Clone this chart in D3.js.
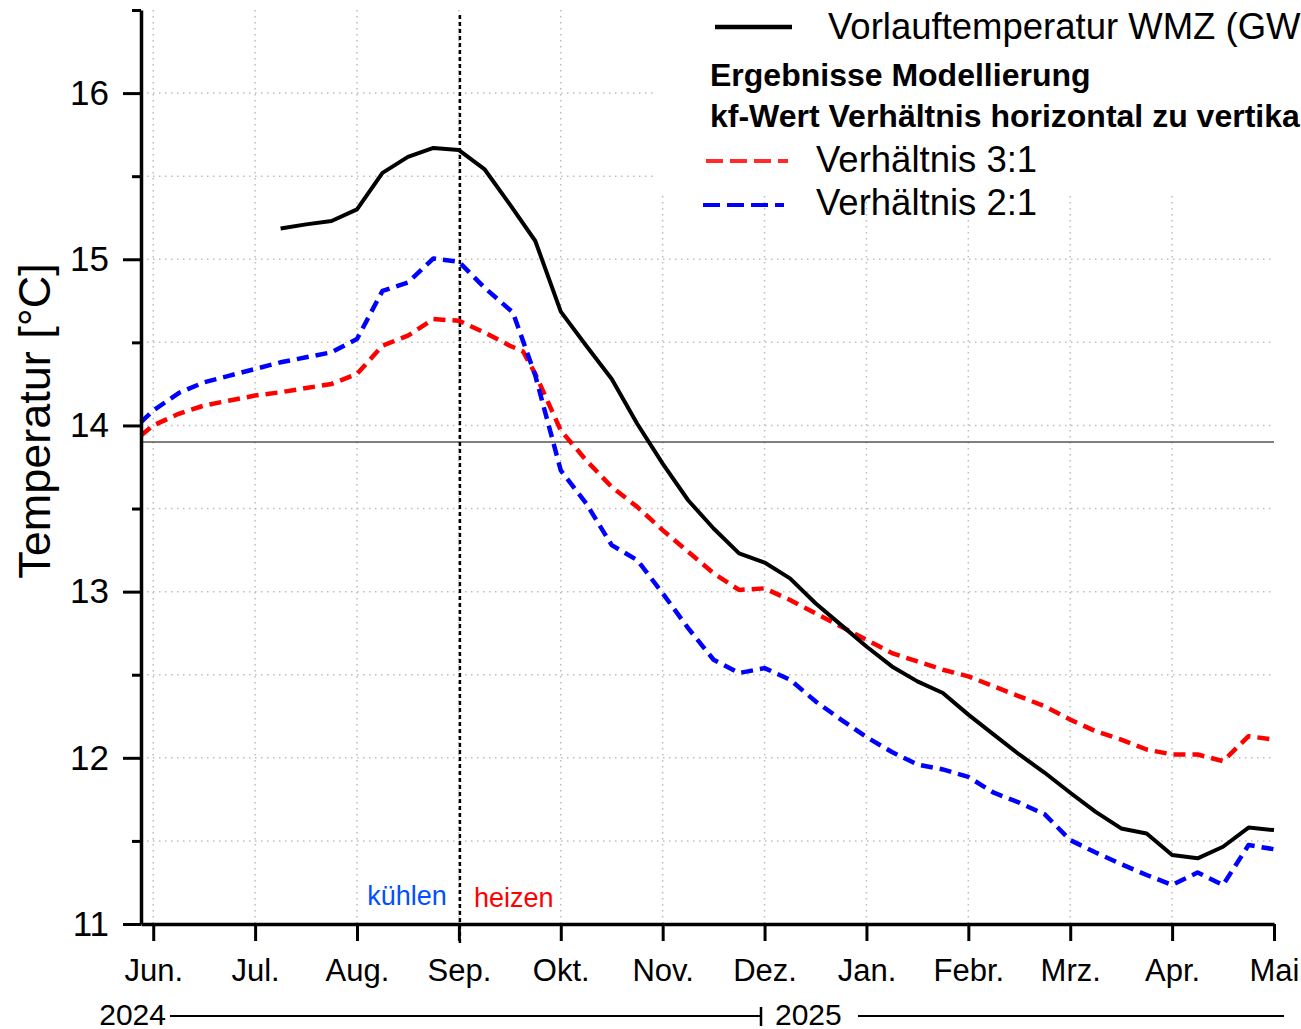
<!DOCTYPE html>
<html><head><meta charset="utf-8">
<script src="https://cdn.jsdelivr.net/npm/d3@7"></script>
<style>
body{margin:0;background:#fff;overflow:hidden}
svg{display:block;font-family:"Liberation Sans",Arial,sans-serif}
</style>
</head><body>
<svg id="c" width="1301" height="1029"></svg>
<script>
// ---- data ----
const monthLabels = ["Jun.","Jul.","Aug.","Sep.","Okt.","Nov.","Dez.","Jan.","Febr.","Mrz.","Apr.","Mai"];
const monthTicks = [0,1,2,3,4,5,6,7,8,9,10,11];
const gridMonths = [0,1,2,3,4,5,6,7,8,9,10];
const yMajorTicks = [11,12,13,14,15,16];
const yMinorTicks = [11.5,12.5,13.5,14.5,15.5,16.5];
const yGrid = [11.5,12,12.5,13,13.5,14,14.5,15,15.5,16];
const yearLabels = ["2024","2025"];
const referenceLevel = 13.9;
const seasonSplit = 3; // Sep.

// Vorlauftemperatur WMZ (measured), month index (0 = Jun. 2024)
const measPos = [1.25,1.5,1.75,2,2.25,2.5,2.75,3,3.25,3.5,3.75,4,4.25,4.5,4.75,5,5.25,5.5,5.75,6,6.25,6.5,6.75,7,7.25,7.5,7.75,8,8.25,8.5,8.75,9,9.25,9.5,9.75,10,10.25,10.5,10.75,11];
const measVal = [15.185,15.21,15.23,15.30,15.52,15.616,15.67,15.657,15.543,15.33,15.11,14.685,14.48,14.28,14.01,13.77,13.55,13.38,13.23,13.175,13.08,12.93,12.80,12.67,12.55,12.46,12.39,12.26,12.14,12.02,11.91,11.79,11.675,11.575,11.545,11.415,11.395,11.465,11.58,11.565];

// Verhältnis 3:1
const r31Pos = [-0.12,0,0.25,0.5,0.75,1,1.25,1.5,1.75,2,2.25,2.5,2.75,3,3.25,3.5,3.63,3.75,4,4.25,4.5,4.75,5,5.25,5.5,5.75,6,6.25,6.5,6.75,7,7.25,7.5,7.75,8,8.25,8.5,8.75,9,9.25,9.5,9.75,10,10.25,10.5,10.75,11];
const r31Val = [13.94,14.00,14.07,14.12,14.15,14.18,14.20,14.225,14.25,14.31,14.48,14.54,14.64,14.63,14.56,14.48,14.445,14.31,13.97,13.79,13.63,13.51,13.37,13.24,13.11,13.01,13.02,12.95,12.87,12.79,12.71,12.63,12.58,12.53,12.49,12.43,12.37,12.31,12.23,12.16,12.11,12.05,12.02,12.02,11.98,12.13,12.11];

// Verhältnis 2:1
const r21Pos = [-0.12,0,0.25,0.5,0.75,1,1.25,1.5,1.75,2,2.25,2.5,2.75,3,3.25,3.53,3.75,4,4.25,4.5,4.75,5,5.25,5.5,5.75,6,6.25,6.5,6.75,7,7.25,7.5,7.75,8,8.25,8.5,8.75,9,9.25,9.5,9.75,10,10.25,10.5,10.75,11];
const r21Val = [14.02,14.09,14.195,14.26,14.30,14.34,14.38,14.41,14.44,14.52,14.81,14.86,15.005,14.985,14.83,14.68,14.30,13.73,13.53,13.28,13.19,12.99,12.78,12.59,12.51,12.54,12.47,12.34,12.23,12.125,12.035,11.96,11.93,11.885,11.79,11.73,11.66,11.505,11.43,11.36,11.295,11.235,11.31,11.235,11.475,11.45];

const legendTitle = "Vorlauftemperatur WMZ (GW";
const legendHead1 = "Ergebnisse Modellierung";
const legendHead2 = "kf-Wert Verhältnis horizontal zu vertikal";
const seriesNames = ["Verhältnis 3:1","Verhältnis 2:1"];

// ---- drawing ----
const svg = d3.select("#c");
const x = d3.scaleLinear().domain([-0.12, 11]).range([141, 1274]);
const y = d3.scaleLinear().domain([11, 16.5]).range([924, 10]);

// grid
const grid = svg.append("g");
grid.selectAll("line.v").data(gridMonths).join("line")
  .attr("x1", d => x(d)).attr("x2", d => x(d))
  .attr("y1", y(16.5)).attr("y2", y(11))
  .attr("stroke", "#bdbdbd").attr("stroke-width", 1.5).attr("stroke-dasharray", "1.5,4.5");
grid.selectAll("line.h").data(yGrid).join("line")
  .attr("x1", x(-0.12)).attr("x2", 1271)
  .attr("y1", d => y(d)).attr("y2", d => y(d))
  .attr("stroke", "#bdbdbd").attr("stroke-width", 1.5).attr("stroke-dasharray", "1.5,4.5");

// legend background
svg.append("rect").attr("x", 653).attr("y", 0).attr("width", 648).attr("height", 196).attr("fill", "#fff");

// reference line
svg.append("line")
  .attr("x1", x(-0.12)).attr("x2", x(11))
  .attr("y1", y(referenceLevel)).attr("y2", y(referenceLevel))
  .attr("stroke", "#555").attr("stroke-width", 1.5);

// season split
svg.append("line")
  .attr("x1", x(seasonSplit)+1).attr("x2", x(seasonSplit)+1)
  .attr("y1", 15).attr("y2", 944)
  .attr("stroke", "#000").attr("stroke-width", 2.5).attr("stroke-dasharray", "4,3");

svg.append("text").attr("x", x(seasonSplit)-12).attr("y", 905)
  .attr("text-anchor", "end").attr("font-size", 27).attr("fill", "#0050ff").text("kühlen");
svg.append("text").attr("x", x(seasonSplit)+15).attr("y", 907)
  .attr("text-anchor", "start").attr("font-size", 27).attr("fill", "#ff0000").text("heizen");

// series
const line = d3.line().x(d => x(d[0])).y(d => y(d[1]));
svg.append("path").datum(d3.zip(r31Pos, r31Val)).attr("d", line)
  .attr("fill", "none").attr("stroke", "#ff0000").attr("stroke-width", 4.5)
  .attr("stroke-dasharray", "12,7").attr("stroke-linejoin", "round");
svg.append("path").datum(d3.zip(r21Pos, r21Val)).attr("d", line)
  .attr("fill", "none").attr("stroke", "#0000ff").attr("stroke-width", 4.5)
  .attr("stroke-dasharray", "12,7").attr("stroke-linejoin", "round");
svg.append("path").datum(d3.zip(measPos, measVal)).attr("d", line)
  .attr("fill", "none").attr("stroke", "#000").attr("stroke-width", 4)
  .attr("stroke-linejoin", "round");

// axes
const xAxis = svg.append("g").attr("transform", `translate(0,${y(11)})`)
  .call(d3.axisBottom(x).tickValues(monthTicks).tickFormat(d => monthLabels[d])
    .tickSize(17).tickSizeOuter(0).tickPadding(18));
xAxis.select(".domain").attr("stroke-width", 3.5);
xAxis.selectAll(".tick line").attr("stroke-width", 3);
xAxis.selectAll("text").attr("font-size", 31).attr("fill", "#000")
  .attr("font-family", '"Liberation Sans",Arial,sans-serif');

const yAxis = svg.append("g").attr("transform", `translate(${x(-0.12)},0)`)
  .call(d3.axisLeft(y).tickValues(yMajorTicks).tickFormat(d3.format("d"))
    .tickSize(18).tickSizeOuter(0).tickPadding(14));
yAxis.select(".domain").attr("stroke-width", 3.5);
yAxis.selectAll(".tick line").attr("stroke-width", 3);
yAxis.selectAll("text").attr("font-size", 35).attr("fill", "#000")
  .attr("font-family", '"Liberation Sans",Arial,sans-serif');

const yMinor = svg.append("g").attr("transform", `translate(${x(-0.12)},0)`)
  .call(d3.axisLeft(y).tickValues(yMinorTicks).tickFormat("").tickSize(9).tickSizeOuter(0));
yMinor.select(".domain").remove();
yMinor.selectAll(".tick line").attr("stroke-width", 3);

svg.append("text").attr("transform", "translate(50,421) rotate(-90)")
  .attr("text-anchor", "middle").attr("font-size", 45).text("Temperatur [°C]");

// year row
svg.append("text").attr("x", 166).attr("y", 1025).attr("text-anchor", "end")
  .attr("font-size", 30).text(yearLabels[0]);
svg.append("line").attr("x1", 170).attr("x2", 760).attr("y1", 1016).attr("y2", 1016)
  .attr("stroke", "#000").attr("stroke-width", 2);
svg.append("line").attr("x1", 761).attr("x2", 761).attr("y1", 1007).attr("y2", 1026)
  .attr("stroke", "#000").attr("stroke-width", 2.5);
svg.append("text").attr("x", 775).attr("y", 1025).attr("text-anchor", "start")
  .attr("font-size", 30).text(yearLabels[1]);
svg.append("line").attr("x1", 858).attr("x2", 1284).attr("y1", 1016).attr("y2", 1016)
  .attr("stroke", "#000").attr("stroke-width", 2);

// legend
svg.append("line").attr("x1", 715).attr("x2", 792).attr("y1", 27).attr("y2", 27)
  .attr("stroke", "#000").attr("stroke-width", 4.5);
svg.append("text").attr("x", 828).attr("y", 39).attr("font-size", 36.5).text(legendTitle);
svg.append("text").attr("x", 710).attr("y", 86).attr("font-size", 32).attr("font-weight", "bold").text(legendHead1);
svg.append("text").attr("x", 710).attr("y", 127).attr("font-size", 32).attr("font-weight", "bold").text(legendHead2);
svg.append("line").attr("x1", 706).attr("x2", 788).attr("y1", 161).attr("y2", 161)
  .attr("stroke", "#ff2a2a").attr("stroke-width", 4).attr("stroke-dasharray", "17,7");
svg.append("text").attr("x", 816).attr("y", 172).attr("font-size", 36.5).text(seriesNames[0]);
svg.append("line").attr("x1", 703).attr("x2", 784).attr("y1", 205).attr("y2", 205)
  .attr("stroke", "#0000ff").attr("stroke-width", 4).attr("stroke-dasharray", "17,7");
svg.append("text").attr("x", 816).attr("y", 215).attr("font-size", 36.5).text(seriesNames[1]);
</script>
</body></html>
